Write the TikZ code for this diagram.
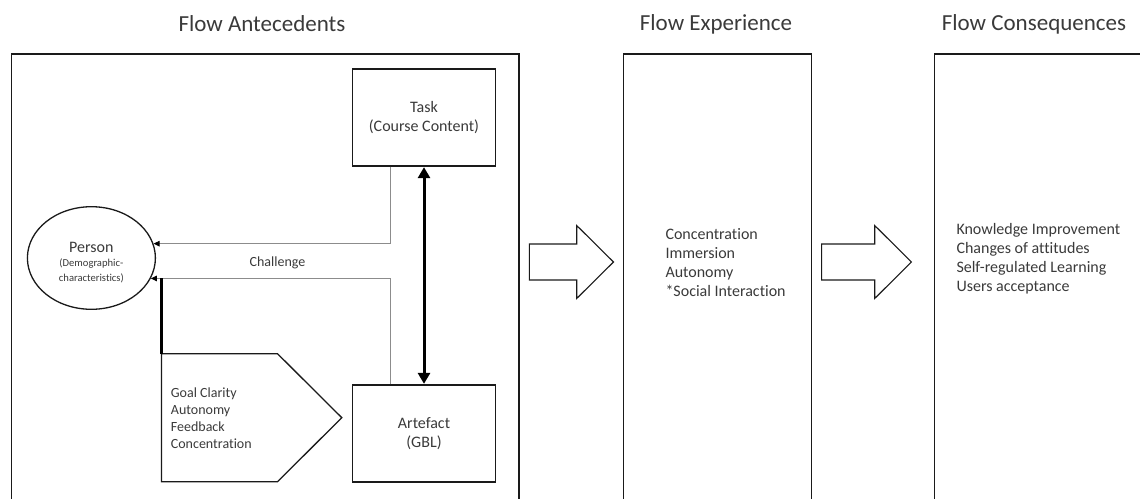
\documentclass[tikz,border=0pt]{standalone}
\usepackage{fontspec}
\setmainfont{Carlito}[Ligatures=NoCommon]
\usetikzlibrary{shapes.geometric,arrows.meta,calc}
\definecolor{inkline}{HTML}{1A1A1A}
\definecolor{inktext}{HTML}{3A3A3A}
\definecolor{linkgray}{HTML}{8C8C8C}
\newcommand{\smallfont}{\fontsize{10.6}{12}\selectfont}
\tikzset{
  every node/.style={text=inktext},
  panel/.style={draw=inkline, line width=1.3pt},
  header/.style={font=\fontsize{23}{26}\selectfont},
  itembox/.style={draw=inkline, line width=1.3pt, minimum width=143pt, minimum height=97pt,
    inner sep=0pt, align=center, font=\fontsize{16}{19.5}\selectfont},
  listtext/.style={align=left, anchor=west, inner sep=0pt, font=\fontsize{16}{19}\selectfont},
  smalllist/.style={align=left, anchor=west, inner sep=0pt, font=\fontsize{14}{17}\selectfont},
  link/.style={draw=linkgray, line width=1pt, -{Triangle[length=6pt,width=5.5pt,color=black]}},
  twoway/.style={draw=black, line width=3pt, {Triangle[length=11pt,width=12pt]}-{Triangle[length=11pt,width=12pt]}, shorten <=0.5pt, shorten >=0.5pt},
  blockarrow/.style={draw=inkline, line width=1.1pt, line join=miter},
}
\begin{document}
\begin{tikzpicture}[x=1pt,y=-1pt]
\useasboundingbox (0,0) rectangle (1140,498);

% column headers
\node[header] (hA) at (262,24) {Flow Antecedents};
\node[header] (hE) at (716,24) {Flow Experience};
\node[header] (hC) at (1034,24) {Flow Consequences};

% column panels (open at the lower edge)
\draw[panel] (11.4,502) -- (11.4,54) -- (519,54) -- (519,502);
\draw[panel] (623.7,502) -- (623.7,54) -- (811.4,54) -- (811.4,502);
\draw[panel] (934.7,502) -- (934.7,54) -- (1145,54);

% antecedents
\node[itembox] (task) at (424,117.5) {Task\\(Course Content)};
\node[itembox, font=\fontsize{16}{19}\selectfont] (artefact) at (424,433.5) {Artefact\\(GBL)};
\node[ellipse, draw=inkline, line width=1.3pt, minimum width=128pt, minimum height=102.6pt,
      inner sep=0pt, align=center, font=\fontsize{16}{15}\selectfont] (person) at (91.4,258)
  {\rule{0pt}{19.5pt}Person\\[-1pt]\smallfont (Demographic-\\\smallfont characteristics)};

% pentagon of task characteristics
\coordinate (pTL) at (161.4,353.7);
\coordinate (pTR) at (277.5,353.7);
\coordinate (pTip) at (341.8,417.7);
\coordinate (pBR) at (277.5,481.7);
\coordinate (pBL) at (161.4,481.7);
\draw[draw=inkline, line width=1.3pt, line join=miter] (pTL) -- (pTR) -- (pTip) -- (pBR) -- (pBL) -- cycle;
\node[smalllist] (goals) at (170.7,418.2) {Goal Clarity\\Autonomy\\Feedback\\Concentration};

% connectors
\coordinate (tx) at (390.7,0);
\draw[link] (task.south -| tx) |- (person.13);
\draw[link] (artefact.north -| tx) |- (person.-19.8);
\node[font=\fontsize{14}{17}\selectfont] (chal) at (277.5,262.7) {Challenge};
\draw[draw=black, line width=2.4pt] (pTL) -- (pTL |- person.-19.8);
\draw[twoway] (task.south) -- (artefact.north);

% block arrows between the columns
\coordinate (a1) at (529.4,262);
\draw[blockarrow] (a1) ++(0,-18) -- ++(47.3,0) -- ++(0,-18.5) -- ++(36.8,36.5) -- ++(-36.8,36.5) -- ++(0,-18.5) -- ++(-47.3,0) -- cycle;
\coordinate (a2) at (821.6,262);
\draw[blockarrow] (a2) ++(0,-18) -- ++(53.1,0) -- ++(0,-18.5) -- ++(36.7,36.5) -- ++(-36.7,36.5) -- ++(0,-18.5) -- ++(-53.1,0) -- cycle;

% experience and consequences
\node[listtext] (exper) at (665.3,263) {Concentration\\Immersion\\Autonomy\\*Social Interaction};
\node[listtext] (conseq) at (956.3,259.2) {Knowledge Improvement\\Changes of attitudes\\Self-regulated Learning\\Users acceptance};
\end{tikzpicture}
\end{document}
